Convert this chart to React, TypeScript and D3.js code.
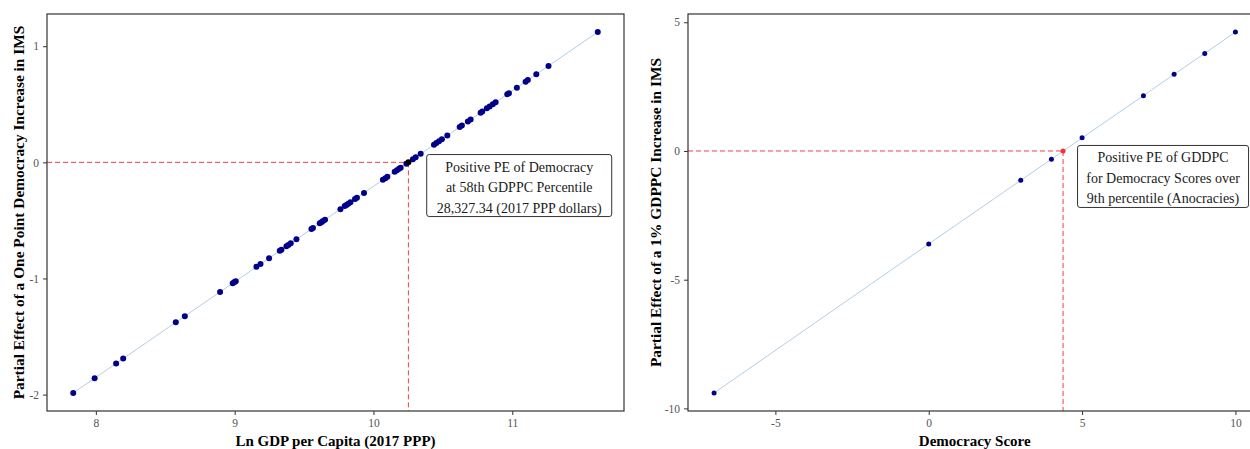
import { useEffect, useRef } from "react";
import * as d3 from "d3";

// left panel: partial effect of democracy across ln GDP per capita
const lnGdp = [
  7.837, 7.991, 8.146, 8.197, 8.576, 8.641, 8.895, 8.986, 8.999, 9.008,
  9.157, 9.186, 9.248, 9.325, 9.337, 9.373, 9.387, 9.404, 9.445, 9.553,
  9.564, 9.613, 9.625, 9.636, 9.651, 9.762, 9.793, 9.805, 9.819, 9.834,
  9.867, 9.881, 9.932, 10.068, 10.086, 10.1, 10.153, 10.169, 10.184, 10.196,
  10.237, 10.284, 10.304, 10.34, 10.436, 10.453, 10.472, 10.493, 10.532,
  10.621, 10.637, 10.68, 10.7, 10.772, 10.784, 10.817, 10.837, 10.86, 10.88,
  10.964, 10.976, 11.033, 11.096, 11.112, 11.173, 11.261, 11.616,
];
const peDemocracy = [
  -1.986, -1.859, -1.732, -1.69, -1.378, -1.325, -1.116, -1.041, -1.03, -1.023,
  -0.9, -0.876, -0.825, -0.762, -0.752, -0.723, -0.711, -0.697, -0.663, -0.575,
  -0.565, -0.525, -0.515, -0.506, -0.494, -0.403, -0.377, -0.367, -0.356, -0.343,
  -0.316, -0.305, -0.263, -0.151, -0.136, -0.125, -0.081, -0.068, -0.056, -0.046,
  -0.012, 0.027, 0.043, 0.073, 0.152, 0.166, 0.181, 0.199, 0.231,
  0.304, 0.317, 0.352, 0.369, 0.428, 0.438, 0.465, 0.481, 0.5, 0.517,
  0.586, 0.596, 0.643, 0.694, 0.708, 0.758, 0.83, 1.122,
];
const gdpTicks = [8, 9, 10, 11];
const peDemTicks = [-2, -1, 0, 1];
const gdpThreshold = 10.2516; // ln(28,327.34)
const leftLabel = ["Positive PE of Democracy", "at 58th GDPPC Percentile", "28,327.34 (2017 PPP dollars)"];

// right panel: partial effect of GDPPC across democracy score
const democracyScore = [-7, 0, 3, 4, 5, 7, 8, 9, 10];
const peGdppc = [-9.4, -3.61, -1.14, -0.32, 0.51, 2.15, 2.98, 3.79, 4.62];
const demTicks = [-5, 0, 5, 10];
const peGdpTicks = [-10, -5, 0, 5];
const demThreshold = 4.38;
const rightLabel = ["Positive PE of GDDPC", "for Democracy Scores over", "9th percentile (Anocracies)"];

const serif = "'Liberation Serif', 'Times New Roman', serif";

function expand(v) {
  const [lo, hi] = d3.extent(v);
  const pad = (hi - lo) * 0.05;
  return [lo - pad, hi + pad];
}

function drawPanel(svg, o) {
  const top = 14;
  const bottom = 411;
  const x = d3.scaleLinear().domain(expand(o.xs)).range([o.x0, o.x1]);
  const y = d3.scaleLinear().domain(expand(o.ys)).range([bottom, top]);
  const pts = o.xs.map((d, i) => [d, o.ys[i]]).sort((a, b) => a[0] - b[0]);
  const g = svg.append("g");

  // threshold guides
  const dash = { stroke: "#ef3d45", "stroke-width": 1, "stroke-dasharray": "5,3" };
  const h = g.append("line").attr("x1", o.x0).attr("x2", x(o.threshold)).attr("y1", y(0)).attr("y2", y(0));
  const v = g.append("line").attr("x1", x(o.threshold)).attr("x2", x(o.threshold)).attr("y1", y(0)).attr("y2", bottom);
  Object.entries(dash).forEach(([k, val]) => { h.attr(k, val); v.attr(k, val); });

  g.append("path")
    .datum(pts)
    .attr("d", d3.line().x((d) => x(d[0])).y((d) => y(d[1])))
    .attr("fill", "none")
    .attr("stroke", "#a9c8e0")
    .attr("stroke-width", 0.9);

  g.append("g")
    .selectAll("circle")
    .data(pts)
    .join("circle")
    .attr("cx", (d) => x(d[0]))
    .attr("cy", (d) => y(d[1]))
    .attr("r", o.r)
    .attr("fill", "#00008b");

  g.append("circle")
    .attr("cx", x(o.threshold))
    .attr("cy", y(0))
    .attr("r", o.r)
    .attr("fill", o.thresholdColor);

  g.append("rect")
    .attr("x", o.x0)
    .attr("y", top)
    .attr("width", o.x1 - o.x0)
    .attr("height", bottom - top)
    .attr("fill", "none")
    .attr("stroke", "#333")
    .attr("stroke-width", 1.2);

  const styleAxis = (ax) => {
    ax.select(".domain").remove();
    ax.attr("font-family", serif);
    ax.selectAll("line").attr("stroke", "#333");
    ax.selectAll("text").attr("fill", "#555").style("font-size", "11.5px").style("font-family", serif);
  };

  g.append("g")
    .attr("transform", `translate(0,${bottom})`)
    .call(d3.axisBottom(x).tickValues(o.xTicks).tickFormat((d) => String(d)).tickSize(4).tickPadding(4))
    .call(styleAxis);

  g.append("g")
    .attr("transform", `translate(${o.x0},0)`)
    .call(d3.axisLeft(y).tickValues(o.yTicks).tickFormat((d) => String(d)).tickSize(4).tickPadding(4))
    .call(styleAxis);

  g.append("text")
    .attr("x", (o.x0 + o.x1) / 2)
    .attr("y", 446)
    .attr("text-anchor", "middle")
    .style("font-family", serif)
    .style("font-size", "15px")
    .style("font-weight", "bold")
    .text(o.xTitle);

  g.append("text")
    .attr("transform", `translate(${o.yTitleX},${(top + bottom) / 2}) rotate(-90)`)
    .attr("text-anchor", "middle")
    .style("font-family", serif)
    .style("font-size", "15.4px")
    .style("font-weight", "bold")
    .text(o.yTitle);

  // annotation label
  const cx = x(o.labelAt[0]);
  const cy = y(o.labelAt[1]);
  g.append("rect")
    .attr("x", cx - o.labelW / 2)
    .attr("y", cy - 31)
    .attr("width", o.labelW)
    .attr("height", 62)
    .attr("rx", 2.5)
    .attr("fill", "#fff")
    .attr("stroke", "#333")
    .attr("stroke-width", 1);
  g.append("g")
    .selectAll("text")
    .data(o.label)
    .join("text")
    .attr("x", cx)
    .attr("y", (d, i) => cy - 14 + i * 20.5)
    .attr("text-anchor", "middle")
    .attr("fill", "#1a1a1a")
    .style("font-family", serif)
    .style("font-size", "14px")
    .text((d) => d);
}

export default function App() {
  const ref = useRef(null);

  useEffect(() => {
    const svg = d3.select(ref.current);
    svg.selectAll("*").remove();

    drawPanel(svg, {
      xs: lnGdp,
      ys: peDemocracy,
      x0: 47,
      x1: 624,
      r: 3,
      xTicks: gdpTicks,
      yTicks: peDemTicks,
      threshold: gdpThreshold,
      thresholdColor: "#000",
      label: leftLabel,
      labelAt: [11.05, -0.2],
      labelW: 185,
      xTitle: "Ln GDP per Capita (2017 PPP)",
      yTitle: "Partial Effect of a One Point Democracy Increase in IMS",
      yTitleX: 23.5,
    });

    drawPanel(svg, {
      xs: democracyScore,
      ys: peGdppc,
      x0: 688,
      x1: 1261.5,
      r: 2.5,
      xTicks: demTicks,
      yTicks: peGdpTicks,
      threshold: demThreshold,
      thresholdColor: "#f0303a",
      label: rightLabel,
      labelAt: [7.64, -0.99],
      labelW: 171,
      xTitle: "Democracy Score",
      yTitle: "Partial Effect of a 1% GDPPC Increase in IMS",
      yTitleX: 660.5,
    });
  }, []);

  return (
    <svg
      ref={ref}
      width={1250}
      height={449}
      style={{ position: "absolute", left: 0, top: 0, background: "#fff" }}
    />
  );
}
